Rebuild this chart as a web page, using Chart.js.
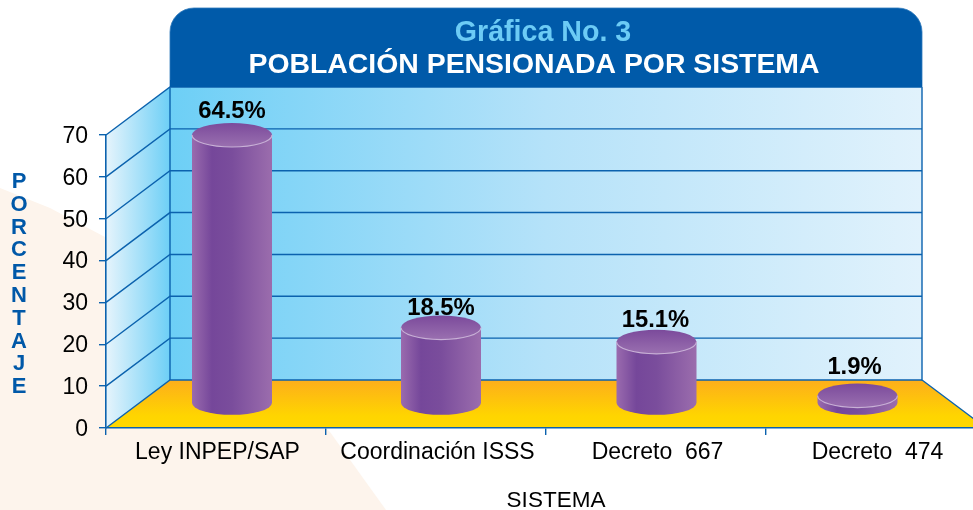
<!DOCTYPE html>
<html><head><meta charset="utf-8">
<style>html,body{margin:0;padding:0;background:#fff;overflow:hidden;width:973px;height:510px}canvas{display:block}</style>
<script src="https://cdn.jsdelivr.net/npm/chart.js@4"></script>
</head><body><canvas id="c" width="1000" height="510" style="width:1000px;height:510px"></canvas>
<script>
const categories = ["Ley INPEP/SAP", "Coordinación ISSS", "Decreto  667", "Decreto  474"];
const poblacion = [64.5, 18.5, 15.1, 1.9];
const valueLabels = ["64.5%", "18.5%", "15.1%", "1.9%"];
const yTicks = [0, 10, 20, 30, 40, 50, 60, 70];
const titleLine1 = "Gráfica No. 3";
const titleLine2 = "POBLACIÓN PENSIONADA POR SISTEMA";
const yTitle = "PORCENTAJE";
const xTitle = "SISTEMA";

// style constants
const FONT = '"Liberation Sans", Arial, sans-serif';
const BLUE = '#0b62ae', HEAD = '#005aa9';
const DX = 64, DY = 48;          // wall depth
const cylShift = [16, 5, 0.5, -18.5];
const topNudge = [0, 0, 0, -1.5];
const labelLift = [24, 19.6, 21.8, 28.5];
const labelShift = [0, 0, -1, -3];
const RX = 40, RY = 12;

function cylGrad(ctx, cx) {
  const g = ctx.createLinearGradient(cx - RX, 0, cx + RX, 0);
  g.addColorStop(0, '#9a6bae'); g.addColorStop(.25, '#75479a');
  g.addColorStop(.5, '#7a4d9c'); g.addColorStop(1, '#9b6dad');
  return g;
}

const scenery = {
  id: 'scenery',
  beforeDraw(chart) {
    const {ctx, chartArea: a, scales: {y}} = chart;
    const L = a.left, R = a.right, B = a.bottom, T = a.top;
    const bx0 = L + DX, bx1 = 922, by0 = B - DY, byT = T - DY;
    ctx.save();
    ctx.fillStyle = '#fff'; ctx.fillRect(0, 0, chart.width, chart.height);
    // paper shape
    ctx.fillStyle = '#fdf4ec';
    ctx.beginPath(); ctx.moveTo(0, 188); ctx.lineTo(50, 208); ctx.lineTo(105, 237);
    ctx.lineTo(330, 432); ctx.lineTo(386, 510); ctx.lineTo(0, 510); ctx.closePath(); ctx.fill();
    // back wall
    let g = ctx.createLinearGradient(bx0, 0, bx1, 0);
    g.addColorStop(0, '#6dcff6'); g.addColorStop(.5, '#b5e2f9'); g.addColorStop(1, '#e1f2fc');
    ctx.fillStyle = g; ctx.fillRect(bx0, byT, bx1 - bx0, by0 - byT);
    // side wall
    g = ctx.createLinearGradient(L, 0, bx0, 0);
    g.addColorStop(0, '#e6f4fc'); g.addColorStop(1, '#6dcff6');
    ctx.fillStyle = g;
    ctx.beginPath(); ctx.moveTo(L, T); ctx.lineTo(bx0, byT); ctx.lineTo(bx0, by0); ctx.lineTo(L, B); ctx.closePath(); ctx.fill();
    // floor
    g = ctx.createLinearGradient(0, by0, 0, B);
    g.addColorStop(0, '#fdae1b'); g.addColorStop(.75, '#ffd500'); g.addColorStop(1, '#ffd800');
    ctx.fillStyle = g;
    ctx.beginPath(); ctx.moveTo(L, B); ctx.lineTo(bx0, by0); ctx.lineTo(bx1, by0); ctx.lineTo(R, B); ctx.closePath(); ctx.fill();
    // grid lines
    ctx.strokeStyle = BLUE; ctx.lineWidth = 1.4;
    yTicks.forEach(v => {
      const p = y.getPixelForValue(v);
      ctx.beginPath(); ctx.moveTo(L, p); ctx.lineTo(bx0, p - DY); ctx.lineTo(bx1, p - DY); ctx.stroke();
    });
    ctx.beginPath(); ctx.moveTo(bx0, byT); ctx.lineTo(bx0, by0); ctx.moveTo(bx1, byT); ctx.lineTo(bx1, by0); ctx.lineTo(R, B); ctx.stroke();
    // header
    ctx.fillStyle = HEAD; ctx.strokeStyle = '#2d79bb'; ctx.lineWidth = 0.8;
    ctx.beginPath(); ctx.moveTo(bx0, 87); ctx.lineTo(bx0, 32); ctx.arcTo(bx0, 8, bx0 + 24, 8, 24);
    ctx.lineTo(bx1 - 24, 8); ctx.arcTo(bx1, 8, bx1, 32, 24); ctx.lineTo(bx1, 87); ctx.closePath(); ctx.fill();
    ctx.stroke();
    ctx.fillStyle = HEAD; ctx.fillRect(bx0, 80, bx1 - bx0, 7);
    ctx.restore();
  },
  afterDatasetsDraw(chart) {
    const {ctx} = chart;
    const meta = chart.getDatasetMeta(0);
    ctx.save();
    meta.data.forEach((bar, i) => {
      const cx = bar.x + cylShift[i];
      const topY = bar.y - 23 + topNudge[i], baseY = bar.base - 24.5;
      ctx.fillStyle = cylGrad(ctx, cx);
      ctx.beginPath();
      ctx.moveTo(cx - RX, topY);
      ctx.lineTo(cx - RX, baseY);
      ctx.ellipse(cx, baseY, RX, RY, 0, Math.PI, 0, true);
      ctx.lineTo(cx + RX, topY);
      ctx.closePath(); ctx.fill();
      const g = ctx.createLinearGradient(0, topY - RY, 0, topY + RY);
      g.addColorStop(0, '#7b4a9b'); g.addColorStop(1, '#9a70b0');
      ctx.fillStyle = g;
      ctx.beginPath(); ctx.ellipse(cx, topY, RX, RY, 0, 0, Math.PI * 2); ctx.fill();
      ctx.strokeStyle = '#c8b0d6'; ctx.lineWidth = 1.2;
      ctx.beginPath(); ctx.ellipse(cx, topY, RX, RY, 0, Math.PI, 0, true); ctx.stroke();
      // value label
      ctx.fillStyle = '#000'; ctx.font = 'bold 23.8px ' + FONT;
      ctx.textAlign = 'center'; ctx.textBaseline = 'middle';
      ctx.fillText(valueLabels[i], cx + labelShift[i], topY - labelLift[i]);
    });
    // titles
    ctx.textAlign = 'center'; ctx.textBaseline = 'middle';
    ctx.font = 'bold 28.6px ' + FONT; ctx.fillStyle = '#6ccbf5';
    ctx.fillText(titleLine1, 543, 33);
    ctx.font = 'bold 28.4px ' + FONT; ctx.fillStyle = '#fff';
    ctx.fillText(titleLine2, 534, 65);
    ctx.font = '22.5px ' + FONT; ctx.fillStyle = '#000';
    ctx.fillText(xTitle, 556, 501);
    ctx.font = 'bold 22px ' + FONT; ctx.fillStyle = '#0058a8';
    [...yTitle].forEach((ch, i) => ctx.fillText(ch, 19, 182 + i * 22.8));
    ctx.restore();
  }
};

new Chart(document.getElementById('c'), {
  type: 'bar',
  data: { labels: categories, datasets: [{ label: 'Población pensionada', data: poblacion, backgroundColor: 'rgba(0,0,0,0)', borderWidth: 0 }] },
  plugins: [scenery],
  options: {
    responsive: false, animation: false,
    layout: { padding: { top: 135, right: 14, left: 0, bottom: 0 } },
    plugins: { legend: { display: false }, title: { display: false }, tooltip: { enabled: false } },
    scales: {
      x: {
        afterFit(s) { s.height = 82; },
        grid: { drawOnChartArea: false, drawTicks: true, tickLength: 7, color: BLUE, lineWidth: 1.4 },
        border: { color: BLUE, width: 1.6 },
        ticks: { color: '#000', font: { family: FONT, size: 23 }, padding: 4, labelOffset: 1.5, maxRotation: 0, autoSkip: false }
      },
      y: {
        min: 0, max: 70,
        afterFit(s) { s.width = 106; },
        grid: { drawOnChartArea: false, drawTicks: true, tickLength: 7, color: BLUE, lineWidth: 1.4 },
        border: { color: BLUE, width: 1.6 },
        ticks: { stepSize: 10, color: '#000', font: { family: FONT, size: 23 }, padding: 11, labelOffset: 1.5 }
      }
    }
  }
});
</script></body></html>
